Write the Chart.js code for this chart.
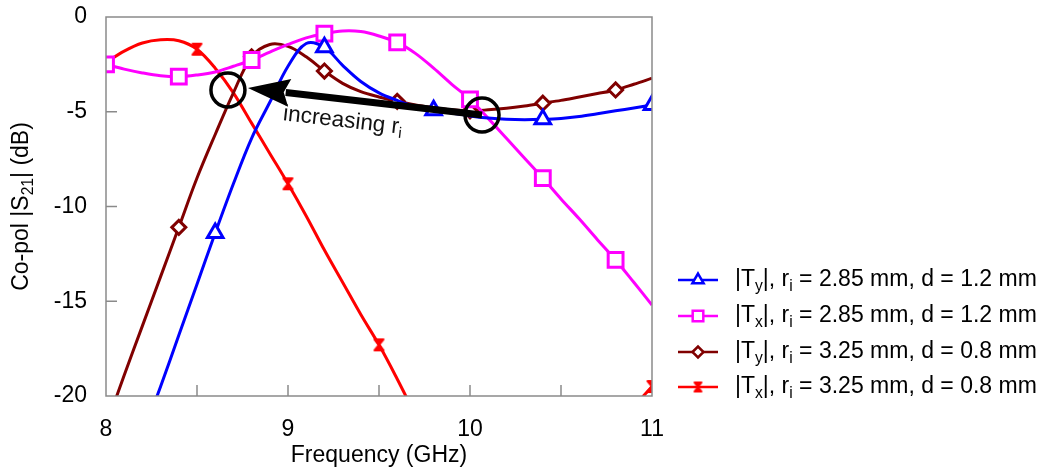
<!DOCTYPE html>
<html>
<head>
<meta charset="utf-8">
<script src="https://cdn.jsdelivr.net/npm/chart.js@4.4.0/dist/chart.umd.min.js"></script>
<style>
  html, body { margin: 0; padding: 0; background: #fff; }
</style>
</head>
<body>
<canvas id="myChart" width="1046" height="470"></canvas>
<script>
// Frequency grid (GHz)
const freqs = [8.0, 8.1, 8.2, 8.3, 8.4, 8.5, 8.6, 8.7, 8.8, 8.9, 9.0, 9.1, 9.2, 9.3, 9.4, 9.5,
  9.6, 9.7, 9.8, 9.9, 10.0, 10.1, 10.2, 10.3, 10.4, 10.5, 10.6, 10.7, 10.8, 10.9, 11.0];

// |Ty|, ri = 2.85 mm, d = 1.2 mm
const ty285 = [-27.5, -24.8, -22.1, -19.5, -16.8, -14.1, -11.4, -8.8, -6.4, -4.5, -2.6, -1.4, -1.6,
  -2.55, -3.4, -4.0, -4.4, -4.73, -4.92, -5.07, -5.22, -5.33, -5.4, -5.42, -5.4, -5.35, -5.25,
  -5.1, -4.95, -4.8, -4.64];
// |Tx|, ri = 2.85 mm, d = 1.2 mm
const tx285 = [-2.5, -2.75, -2.95, -3.1, -3.15, -3.06, -2.9, -2.6, -2.27, -1.85, -1.45, -1.1, -0.88,
  -0.74, -0.77, -1.0, -1.34, -1.92, -2.7, -3.55, -4.35, -5.35, -6.4, -7.45, -8.5, -9.6, -10.65,
  -11.75, -12.82, -14.0, -15.2];
// |Ty|, ri = 3.25 mm, d = 0.8 mm
const ty325 = [-21.6, -18.9, -16.3, -13.7, -11.1, -8.5, -6.2, -4.0, -2.1, -1.45, -1.55, -2.1, -2.85,
  -3.5, -3.94, -4.22, -4.45, -4.64, -4.78, -4.9, -4.95, -4.9, -4.82, -4.7, -4.55, -4.4, -4.22,
  -4.04, -3.85, -3.55, -3.23];
// |Tx|, ri = 3.25 mm, d = 0.8 mm
const tx325 = [-2.4, -1.8, -1.37, -1.2, -1.25, -1.7, -2.7, -4.0, -5.6, -7.2, -8.8, -10.5, -12.3,
  -14.0, -15.7, -17.3, -19.1, -21.0, -22.8, -24.3, -25.4, -26.2, -26.6, -26.7, -26.4, -25.8,
  -24.8, -23.5, -22.0, -20.6, -19.5];

// frequencies that carry a marker
const marksTy285 = [8.0, 8.6, 9.2, 9.8, 10.4, 11.0];
const marksTx285 = [8.0, 8.4, 8.8, 9.2, 9.6, 10.0, 10.4, 10.8];
const marksTy325 = [8.4, 8.8, 9.2, 9.6, 10.0, 10.4, 10.8];
const marksTx325 = [8.0, 8.5, 9.0, 9.5, 10.0, 10.5, 11.0];

const xTickLabels = [8, 9, 10, 11];
const yTickLabels = [0, -5, -10, -15, -20];

// annotation anchors (data units)
const circleLeft = { x: 8.67, y: -3.85 };
const circleRight = { x: 10.066, y: -5.17 };
const arrowTip = { x: 8.78, y: -3.75 };
const noteAt = { x: 8.973, y: -5.22 };

const FONT = '"Liberation Sans", Arial, sans-serif';
const FS = 23;

function hourglass(color, w, h) {
  const c = document.createElement('canvas');
  c.width = w; c.height = h;
  const g = c.getContext('2d');
  g.fillStyle = color; g.strokeStyle = color; g.lineWidth = 2; g.lineJoin = 'round';
  g.beginPath();
  g.moveTo(2, 2); g.lineTo(w - 2, 2); g.lineTo(2, h - 2); g.lineTo(w - 2, h - 2);
  g.closePath();
  g.fill(); g.stroke();
  return c;
}

const series = [
  { label: 'ty285', values: ty285, marks: marksTy285, color: '#0000ff', style: 'triangle', r: 9, lr: 6.5,
    text: [['|T'], ['y', 1], ['|, r'], ['i', 1], [' = 2.85 mm, d = 1.2 mm']] },
  { label: 'tx285', values: tx285, marks: marksTx285, color: '#ff00ff', style: 'rect', r: 10.5, lr: 7.5,
    text: [['|T'], ['x', 1], ['|, r'], ['i', 1], [' = 2.85 mm, d = 1.2 mm']] },
  { label: 'ty325', values: ty325, marks: marksTy325, color: '#800000', style: 'rectRot', r: 7, lr: 5.5,
    text: [['|T'], ['y', 1], ['|, r'], ['i', 1], [' = 3.25 mm, d = 0.8 mm']] },
  { label: 'tx325', values: tx325, marks: marksTx325, color: '#ff0000', style: hourglass('#ff0000', 13, 15),
    lstyle: hourglass('#ff0000', 11, 13), r: 8, lr: 6,
    text: [['|T'], ['x', 1], ['|, r'], ['i', 1], [' = 3.25 mm, d = 0.8 mm']] }
];

function hasMark(marks, x) {
  return marks.some(m => Math.abs(m - x) < 1e-6);
}

function drawRich(ctx, parts, x, y, size) {
  // draws text parts left to right, sub parts smaller and lowered
  ctx.textBaseline = 'middle';
  ctx.textAlign = 'left';
  let cx = x;
  parts.forEach(p => {
    const sub = p[1];
    ctx.font = (sub ? size * 0.68 : size) + 'px ' + FONT;
    ctx.fillText(p[0], cx, sub ? y + size * 0.28 : y);
    cx += ctx.measureText(p[0]).width;
  });
  return cx - x;
}

function richWidth(ctx, parts, size) {
  let w = 0;
  parts.forEach(p => {
    ctx.font = (p[1] ? size * 0.68 : size) + 'px ' + FONT;
    w += ctx.measureText(p[0]).width;
  });
  return w;
}

const decorPlugin = {
  id: 'decor',
  afterDatasetsDraw(chart) {
    const ctx = chart.ctx;
    const a = chart.chartArea;
    const xs = chart.scales.x, ys = chart.scales.y;
    ctx.save();

    // plot box
    ctx.strokeStyle = '#8a8a8a';
    ctx.lineWidth = 1.5;
    ctx.strokeRect(a.left, a.top, a.right - a.left, a.bottom - a.top);

    // inward ticks
    ctx.beginPath();
    [8.5, 9, 9.5, 10, 10.5].forEach(v => {
      const px = xs.getPixelForValue(v);
      ctx.moveTo(px, a.bottom); ctx.lineTo(px, a.bottom - 11);
    });
    [-5, -10, -15].forEach(v => {
      const py = ys.getPixelForValue(v);
      ctx.moveTo(a.left, py); ctx.lineTo(a.left + 11, py);
    });
    ctx.stroke();

    // circles
    ctx.strokeStyle = '#000';
    ctx.lineWidth = 3.5;
    [circleLeft, circleRight].forEach(c => {
      ctx.beginPath();
      ctx.arc(xs.getPixelForValue(c.x), ys.getPixelForValue(c.y), 17, 0, Math.PI * 2);
      ctx.stroke();
    });

    // arrow from right circle to left circle
    const tx = xs.getPixelForValue(circleRight.x), ty = ys.getPixelForValue(circleRight.y);
    const hx = xs.getPixelForValue(arrowTip.x), hy = ys.getPixelForValue(arrowTip.y);
    const ang = Math.atan2(hy - ty, hx - tx);
    const len = Math.hypot(hx - tx, hy - ty);
    ctx.translate(tx, ty);
    ctx.rotate(ang);
    ctx.fillStyle = '#000';
    ctx.fillRect(0, -3.5, len - 38, 7);
    ctx.beginPath();
    ctx.moveTo(len, 0);
    ctx.lineTo(len - 42, -14);
    ctx.lineTo(len - 36, 0);
    ctx.lineTo(len - 42, 14);
    ctx.closePath();
    ctx.fill();
    ctx.setTransform(1, 0, 0, 1, 0, 0);

    // note text, tilted along the arrow
    const nx = xs.getPixelForValue(noteAt.x), ny = ys.getPixelForValue(noteAt.y);
    ctx.translate(nx, ny);
    ctx.rotate(ang + Math.PI);
    ctx.fillStyle = '#111';
    drawRich(ctx, [['increasing r'], ['i', 1]], 0, -2, 22.5);
    ctx.setTransform(1, 0, 0, 1, 0, 0);

    // axis titles
    ctx.fillStyle = '#000';
    ctx.font = FS + 'px ' + FONT;
    ctx.textAlign = 'center';
    ctx.textBaseline = 'middle';
    ctx.fillText('Frequency (GHz)', (a.left + a.right) / 2, 456);

    const yTitle = [['Co-pol |S'], ['21', 1], ['| (dB)']];
    ctx.translate(22, (a.top + a.bottom) / 2);
    ctx.rotate(-Math.PI / 2);
    drawRich(ctx, yTitle, -richWidth(ctx, yTitle, FS) / 2, 0, FS);
    ctx.setTransform(1, 0, 0, 1, 0, 0);

    // legend
    const rows = [280, 316, 352, 387];
    series.forEach((s, i) => {
      const y = rows[i];
      ctx.strokeStyle = s.color;
      ctx.lineWidth = 2.5;
      ctx.beginPath();
      ctx.moveTo(678, y); ctx.lineTo(718, y);
      ctx.stroke();
      ctx.fillStyle = '#fff';
      Chart.helpers.drawPoint(ctx, { pointStyle: s.lstyle || s.style, radius: s.lr, borderWidth: 2.5 }, 698, y);
      ctx.fillStyle = '#000';
      drawRich(ctx, s.text, 735, y, FS);
    });

    ctx.restore();
  }
};

const datasets = series.map(s => ({
  label: s.label,
  data: freqs.map((f, i) => ({ x: f, y: s.values[i] })),
  borderColor: s.color,
  backgroundColor: '#ffffff',
  borderWidth: 3,
  tension: 0.35,
  pointStyle: s.style,
  pointBorderColor: s.color,
  pointBackgroundColor: typeof s.style === 'string' ? '#ffffff' : s.color,
  pointBorderWidth: 3,
  pointRadius: c => hasMark(s.marks, c.raw.x) ? s.r : 0
}));

const ctx = document.getElementById('myChart');
const myChart = new Chart(ctx, {
  type: 'line',
  data: { datasets },
  options: {
    responsive: false,
    animation: false,
    events: [],
    layout: { padding: { top: 17, right: 394, left: 0, bottom: 0 } },
    plugins: { legend: { display: false }, tooltip: { enabled: false } },
    scales: {
      x: {
        type: 'linear', min: 8, max: 11,
        grid: { display: false, drawTicks: false }, border: { display: false },
        afterFit: scale => { scale.height = 74; scale.paddingLeft = 0; scale.paddingRight = 0; },
        ticks: {
          stepSize: 0.5, autoSkip: false, maxRotation: 0, padding: 20,
          color: '#000', font: { size: FS, family: FONT },
          callback: v => xTickLabels.includes(v) ? String(v) : ''
        }
      },
      y: {
        min: -20, max: 0,
        grid: { display: false, drawTicks: false }, border: { display: false },
        afterFit: scale => { scale.width = 106; scale.paddingTop = 0; scale.paddingBottom = 0; },
        ticks: {
          stepSize: 5, padding: 19,
          color: '#000', font: { size: FS, family: FONT },
          callback: v => yTickLabels.includes(v) ? String(v) : ''
        }
      }
    }
  },
  plugins: [decorPlugin]
});
</script>
</body>
</html>
